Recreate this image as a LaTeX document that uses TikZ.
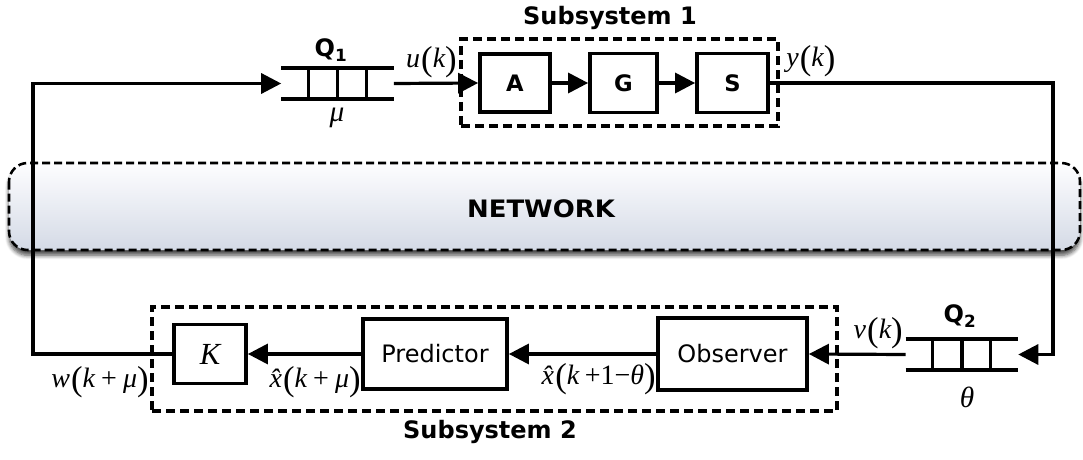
\documentclass[tikz,border=0pt]{standalone}
\usepackage{fontspec}
\setmainfont{DejaVu Sans}
\newfontfamily\tms{Liberation Serif}
\usetikzlibrary{arrows.meta, shadows.blur, calc}

% signal-name helpers (Times-like italic with tall upright parentheses)
\newcommand\mv[1]{{\itshape #1}}
\newcommand\lpr{{\fontsize{26}{26}\selectfont\raisebox{-1.8pt}{(}}}
\newcommand\rpr{{\fontsize{26}{26}\selectfont\raisebox{-1.8pt}{)}}}
\newcommand\hatx{\mv{x̂}}
\newcommand\bop[1]{\kern0.22em#1\kern0.22em}

\begin{document}
\begin{tikzpicture}[x=0.75pt, y=-0.75pt,
  block/.style={draw, line width=2.8pt, inner sep=0pt},
  conn/.style={line width=2.4pt},
  arr/.style={conn, -{Triangle[length=15pt,width=15pt,fill=black]}},
  group/.style={draw, line width=2.4pt, dash pattern=on 7pt off 3.5pt, inner sep=0pt},
  queue/.style={inner sep=0pt, minimum width=84pt, minimum height=22.5pt},
  qline/.style={line width=3.2pt},
  qdiv/.style={line width=2.4pt},
  bold/.style={font=\fontsize{18}{21}\selectfont\bfseries},
  boxbold/.style={font=\fontsize{17}{20}\selectfont\bfseries},
  plain/.style={font=\fontsize{18}{21}\selectfont},
  sig/.style={font=\tms\fontsize{21}{24}\selectfont, inner sep=0pt},
  netbox/.style={draw, line width=1.9pt, dash pattern=on 6pt off 3pt,
    rounded corners=14pt, top color=white!97!blue!20,
    bottom color={rgb,255:red,212;green,218;blue,230},
    blur shadow={shadow xshift=0pt, shadow yshift=-4pt, shadow blur radius=3pt,
      shadow blur steps=6, shadow opacity=70}}
]
\useasboundingbox (0,0) rectangle (1083,460);

% network band
\draw[netbox] (9,163) rectangle (1080,250);
\node[font=\fontsize{18}{20}\selectfont\bfseries] (net) at (541,209) {\scalebox{1.08}[1]{NETWORK}};

% subsystem 1
\node[group, minimum width=237.75pt, minimum height=65.25pt] (sub1) at (619.5,82.5) {};
\node[bold] (sub1lbl) at (610,18) {Subsystem 1};
\node[block, boxbold, minimum width=52.5pt, minimum height=43.5pt] (A) at (515,83) {A};
\node[block, boxbold, minimum width=50.25pt, minimum height=44.25pt] (G) at (623.5,83) {G};
\node[block, boxbold, minimum width=53.25pt, minimum height=44.25pt] (S) at (732.5,83) {S};

% subsystem 2
\node[group, minimum width=513.75pt, minimum height=78pt] (sub2) at (494.5,359) {};
\node[bold] (sub2lbl) at (490,432) {Subsystem 2};
\node[block, font=\tms\itshape\fontsize{23}{24}\selectfont, minimum width=54pt, minimum height=44.25pt] (K) at (210,354) {K};
\node[block, plain, minimum width=108pt, minimum height=52.5pt] (P) at (435,354) {Predictor};
\node[block, plain, minimum width=111.75pt, minimum height=54pt] (O) at (732.5,354) {Observer};

% queues
\node[queue] (q1) at (337.5,83.5) {};
\node[queue, minimum height=23.25pt] (q2) at (962,354.5) {};
\foreach \q in {q1,q2}{
  \draw[qline] (\q.north west) -- (\q.north east);
  \draw[qline] (\q.south west) -- (\q.south east);
  \foreach \f in {0.24,0.5,0.755}
    \draw[qdiv] ($(\q.north west)!\f!(\q.north east)$) -- ($(\q.south west)!\f!(\q.south east)$);
}
\node[bold] (q1lbl) at (331,50) {Q\textsubscript{1}};
\node[sig, font=\tms\fontsize{22}{24}\selectfont] (mu) at (337,118) {\mv{μ}};
\node[bold] (q2lbl) at (960,316) {Q\textsubscript{2}};
\node[sig, font=\tms\fontsize{22}{24}\selectfont] (theta) at (967,397) {\mv{θ}};

% signal labels
\node[sig, anchor=east] (uk) at (457,62) {\mv{u}\kern0.04em\lpr\mv{k}\rpr};
\node[sig, anchor=west] (yk) at (786,61) {\mv{y}\kern0.04em\lpr\mv{k}\rpr};
\node[sig, anchor=east] (vk) at (903,333) {\mv{v}\kern0.04em\lpr\mv{k}\rpr};
\node[sig, anchor=east] (wk) at (149,382) {\mv{w}\kern0.04em\lpr\mv{k}\bop{+}\mv{μ}\rpr};
\node[sig, anchor=east] (xk) at (361,382) {\hatx\kern0.04em\lpr\mv{k}\bop{+}\mv{μ}\rpr};
\node[sig, anchor=east] (xo) at (656,379) {\hatx\kern0.04em\lpr\mv{k}\kern0.2em+1−\mv{θ}\rpr};

% routing points of the outer loop
\coordinate (lx) at (33,0);
\coordinate (rx) at (1053,0);

% connectors
\draw[arr] (q1.east) -- (A.west);
\draw[arr] (A.east) -- (G.west);
\draw[arr] (G.east) -- (S.west);
\draw[arr] (S.east) -- (S.east -| rx) |- (q2.east);
\draw[arr] (q2.west) -- (O.east);
\draw[arr] (O.west) -- (P.east);
\draw[arr] (P.west) -- (K.east);
\draw[arr] (K.west) -- (K.west -| lx) |- (q1.west);
\end{tikzpicture}
\end{document}
